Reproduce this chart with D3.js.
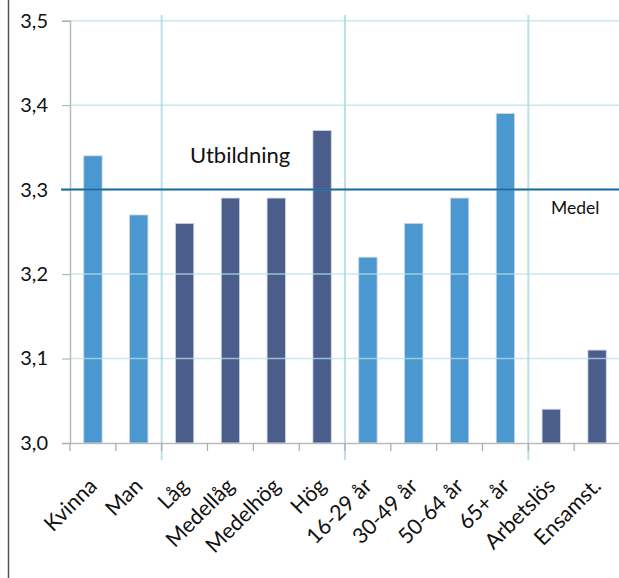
<!DOCTYPE html>
<html><head><meta charset="utf-8">
<script src="https://cdn.jsdelivr.net/npm/d3@7"></script>
<style>
html,body{margin:0;padding:0;background:#fff;}
svg{display:block;font-family:Lato,"Open Sans",sans-serif;}
</style></head>
<body><svg id="c" width="619" height="578"></svg>
<script>
const categories = ["Kvinna","Man","Låg","Medellåg","Medelhög","Hög","16-29 år","30-49 år","50-64 år","65+ år","Arbetslös","Ensamst."];
const values = [3.34,3.27,3.26,3.29,3.29,3.37,3.22,3.26,3.29,3.39,3.04,3.11];
const groups = ["kön","kön","utb","utb","utb","utb","ålder","ålder","ålder","ålder","övr","övr"];
const yTicks = [3.0,3.1,3.2,3.3,3.4,3.5];
const meanValue = 3.3;
const separatorsAfter = ["Man","Hög","65+ år"];
const annotations = ["Utbildning","Medel"];

(function(){
const svg = d3.select("#c");
const W = 619, H = 578;
const pLeft = 70, pRight = 620, pTop = 20.7, pBottom = 443;

const x = d3.scaleBand().domain(categories).range([pLeft, pRight]).padding(0);
const y = d3.scaleLinear().domain([3.0, 3.5]).range([pBottom, pTop]);
const color = d3.scaleOrdinal().domain(["kön","utb","ålder","övr"]).range(["#4b97cf","#4a5d8b","#4b97cf","#4a5d8b"]);

// left frame line
svg.append("line").attr("x1",8.5).attr("x2",8.5).attr("y1",0).attr("y2",H)
  .attr("stroke","#555").attr("stroke-width",1.5);

// bars
const bw = x.bandwidth()*0.4;
svg.append("g").selectAll("rect").data(categories).join("rect")
  .attr("x", d => x(d) + (x.bandwidth()-bw)/2)
  .attr("y", (d,i) => y(values[i]))
  .attr("width", bw)
  .attr("height", (d,i) => y(3.0) - y(values[i]))
  .attr("fill", (d,i) => color(groups[i]))
  .attr("stroke", "#c9d6e6").attr("stroke-width", 0.8);

// gridlines (drawn over bars, translucent)
svg.append("g").selectAll("line").data(yTicks.filter(t => t > 3.0)).join("line")
  .attr("x1", pLeft).attr("x2", pRight)
  .attr("y1", d => y(d)).attr("y2", d => y(d))
  .attr("stroke", "#b6e0e7").attr("stroke-opacity", 0.75).attr("stroke-width", 1.5);

// separators
svg.append("g").selectAll("line").data(separatorsAfter).join("line")
  .attr("x1", d => x(d) + x.bandwidth()).attr("x2", d => x(d) + x.bandwidth())
  .attr("y1", 15).attr("y2", 460)
  .attr("stroke", "#a8dae2").attr("stroke-opacity", 0.8).attr("stroke-width", 2);

// y axis
const yAxis = svg.append("g").attr("transform", `translate(${pLeft},0)`)
  .call(d3.axisLeft(y).tickValues(yTicks).tickFormat(d => d3.format(".1f")(d).replace(".", ",")).tickSize(8).tickPadding(14));
yAxis.select(".domain").attr("stroke", "#bbb").attr("stroke-width", 1.5);
yAxis.selectAll(".tick line").attr("stroke", "#aaa");
yAxis.selectAll(".tick text").attr("font-size", 20).attr("fill", "#111").attr("font-family", "Lato");

// x axis
const xAxis = svg.append("g").attr("transform", `translate(0,${pBottom})`)
  .call(d3.axisBottom(x).tickSize(0).tickFormat(""));
xAxis.select(".domain").attr("stroke", "#bbb").attr("stroke-width", 1.5);
svg.append("g").selectAll("line").data(categories.concat(["__end"])).join("line")
  .attr("x1", (d,i) => pLeft + i*x.step()).attr("x2", (d,i) => pLeft + i*x.step())
  .attr("y1", pBottom).attr("y2", pBottom+8)
  .attr("stroke", "#aaa").attr("stroke-width", 1.2);

// x labels rotated
svg.append("g").selectAll("text").data(categories).join("text")
  .attr("transform", d => `translate(${x(d) + x.bandwidth()/2},${pBottom + 39}) rotate(-45)`)
  .attr("text-anchor", "end")
  .attr("dy", "0.35em")
  .attr("font-size", 21.5).attr("fill", "#111")
  .text(d => d);

// mean line
svg.append("line").attr("x1", 61).attr("x2", pRight)
  .attr("y1", y(meanValue)).attr("y2", y(meanValue))
  .attr("stroke", "#1b6aa2").attr("stroke-width", 2);

// annotations
svg.append("text").attr("x", 190).attr("y", 163).attr("font-size", 22).attr("fill", "#111").text(annotations[0]);
svg.append("text").attr("x", 551).attr("y", 214).attr("font-size", 17.5).attr("fill", "#111").text(annotations[1]);
})();
</script>
</body></html>
